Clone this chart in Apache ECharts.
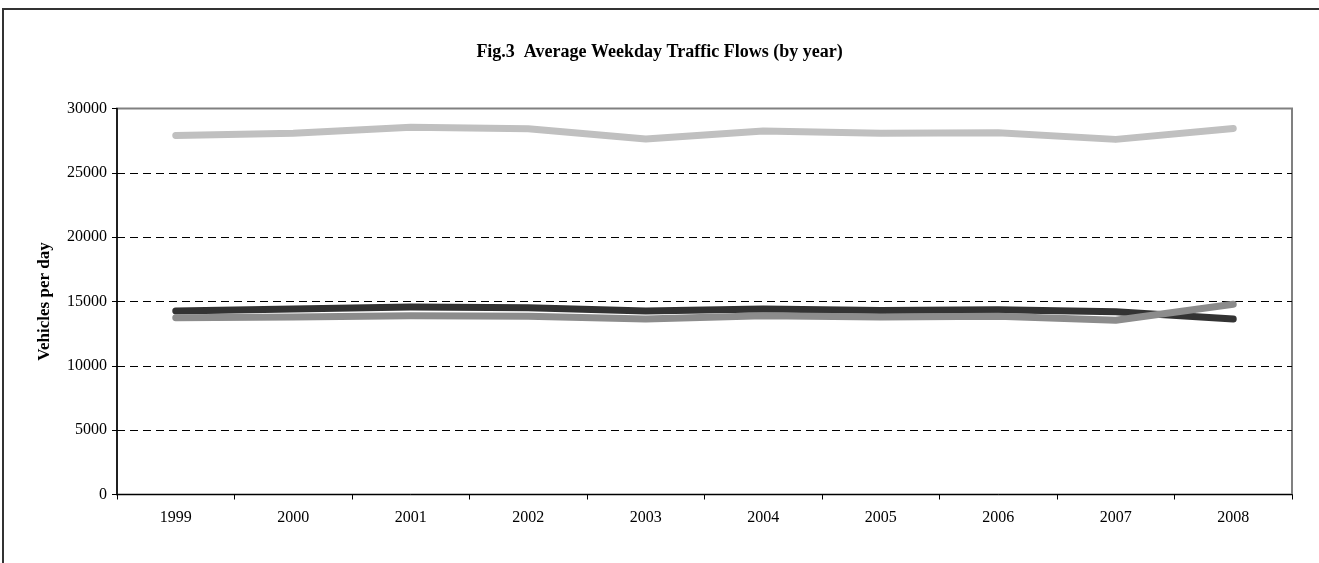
<!DOCTYPE html>
<html>
<head>
<meta charset="utf-8">
<script src="https://cdn.jsdelivr.net/npm/echarts@6/dist/echarts.min.js"></script>
<style>html,body{margin:0;padding:0;background:#fff}#c{width:1319px;height:563px}</style>
</head>
<body>
<div id="c"></div>
<script>
const years = ['1999','2000','2001','2002','2003','2004','2005','2006','2007','2008'];
const seriesTop = [27900, 28070, 28550, 28430, 27630, 28250, 28070, 28120, 27600, 28450];
const seriesDark = [14260, 14420, 14570, 14520, 14260, 14420, 14310, 14360, 14210, 13640];
const seriesGrey = [13740, 13800, 13900, 13850, 13640, 13900, 13800, 13850, 13540, 14780];
const titleText = 'Fig.3  Average Weekday Traffic Flows (by year)';
const yName = 'Vehicles per day';

const font = '"Liberation Serif", "Times New Roman", serif';
const chart = echarts.init(document.getElementById('c'), null, {renderer: 'canvas'});
function line(name, data, color, z) {
  return {
    name: name, type: 'line', data: data, symbol: 'none', smooth: false,
    color: color, z: z,
    lineStyle: {color: color, width: 7, cap: 'round', join: 'round', opacity: 1},
    itemStyle: {color: color}, emphasis: {disabled: true}, animation: false
  };
}
chart.setOption({
  animation: false,
  backgroundColor: '#fff',
  title: {
    text: titleText, left: 'center', top: 38,
    textStyle: {fontFamily: font, fontSize: 18, fontWeight: 'bold', color: '#000'}
  },
  graphic: [{
    type: 'rect', silent: true, z: 100,
    shape: {x: 3, y: 9, width: 1340, height: 620},
    style: {fill: 'none', stroke: '#333', lineWidth: 2}
  }],
  grid: {
    left: 117, right: 27, top: 108.5, bottom: 68.5,
    show: true, borderColor: '#808080', borderWidth: 2, backgroundColor: 'transparent'
  },
  xAxis: {
    type: 'category', data: years, boundaryGap: true,
    axisLine: {lineStyle: {color: '#000', width: 1}},
    axisTick: {show: true, alignWithLabel: false, length: 5, lineStyle: {color: '#000'}},
    axisLabel: {fontFamily: font, fontSize: 16, color: '#000', margin: 15},
    splitLine: {show: false}
  },
  yAxis: {
    type: 'value', min: 0, max: 30000, interval: 5000,
    name: yName, nameLocation: 'middle', nameGap: 64, nameRotate: 90,
    nameTextStyle: {fontFamily: font, fontSize: 17, fontWeight: 'bold', color: '#000'},
    axisLine: {show: true, lineStyle: {color: '#000', width: 1.5}},
    axisTick: {show: true, length: 5, lineStyle: {color: '#000'}},
    axisLabel: {fontFamily: font, fontSize: 16, color: '#000', margin: 10,
      formatter: function (v) { return String(v); }},
    splitLine: {show: true, showMinLine: false, showMaxLine: false,
      lineStyle: {color: '#000', type: [8, 5], width: 1}}
  },
  series: [
    line('A', seriesTop, '#c0c0c0', 2),
    line('B', seriesDark, '#333333', 3),
    line('C', seriesGrey, '#8c8c8c', 4)
  ]
});
</script>
</body>
</html>
